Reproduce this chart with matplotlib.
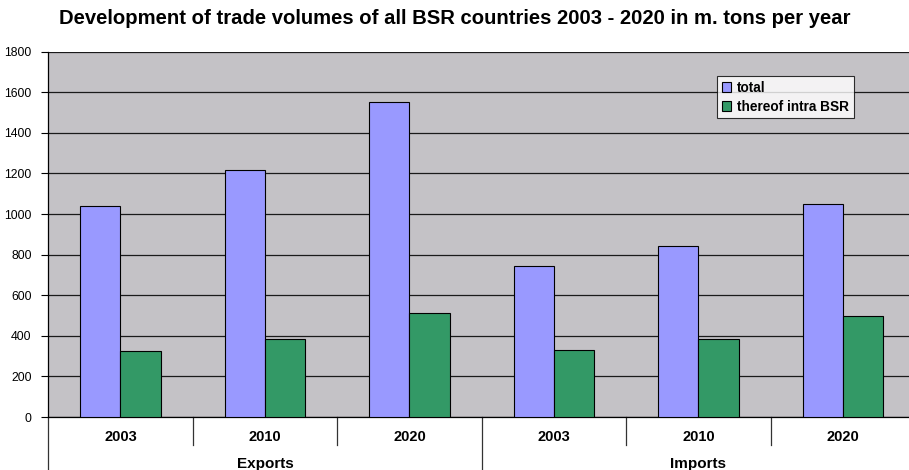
import matplotlib
matplotlib.use("Agg")
import matplotlib.pyplot as plt
from matplotlib.patches import Patch

plt.rcParams['font.family'] = ['Liberation Sans', 'DejaVu Sans']

groups = ["Exports", "Imports"]
years = ["2003", "2010", "2020", "2003", "2010", "2020"]
total = [1040, 1215, 1550, 745, 845, 1050]
intra = [325, 385, 510, 330, 382, 500]
series_names = ["total", "thereof intra BSR"]
yticks = [0, 200, 400, 600, 800, 1000, 1200, 1400, 1600, 1800]

W, H = 909, 470
fig = plt.figure(figsize=(W / 100, H / 100), dpi=100)
fig.patch.set_facecolor("white")
left, right, top, bottom = 48.25, 915.25, 51.7, 417.0
ax = fig.add_axes([left / W, 1 - bottom / H, (right - left) / W, (bottom - top) / H])
ax.set_facecolor("#C4C2C6")

x = list(range(len(years)))
bw = 0.28
ax.bar([i - bw / 2 for i in x], total, width=bw, color="#9999FF", edgecolor="black", linewidth=0.8, zorder=3)
ax.bar([i + bw / 2 for i in x], intra, width=bw, color="#339966", edgecolor="black", linewidth=0.8, zorder=3)

ax.set_xlim(-0.5, len(years) - 0.5)
ax.set_ylim(0, 1800)
ax.set_yticks(yticks)
ax.set_yticklabels([str(v) for v in yticks], fontsize=8.8)
ax.tick_params(axis="y", length=5, width=0.8, pad=7, color="black")
ax.yaxis.grid(True, color="#1a1a1a", linewidth=0.9, zorder=0)
ax.set_axisbelow(True)
ax.set_xticks([])
ax.spines["right"].set_visible(False)
ax.spines["top"].set_visible(False)
ax.spines["left"].set_linewidth(0.9)
ax.spines["bottom"].set_linewidth(0.9)

tr = ax.get_xaxis_transform()
ph = bottom - top
def fy(py):
    return (bottom - py) / ph

for i, lab in enumerate(years):
    ax.text(i, fy(437), lab, transform=tr, ha="center", va="center", fontsize=10.5, fontweight="bold")
for i in [0.5, 1.5, 3.5, 4.5]:
    ax.plot([i, i], [0, fy(445)], transform=tr, color="#333333", lw=0.9, clip_on=False)
for i in [-0.5, 2.5]:
    ax.plot([i, i], [0, fy(475)], transform=tr, color="#333333", lw=0.9, clip_on=False)
for gi, g in enumerate(groups):
    ax.text(gi * 3 + 1, fy(464), g, transform=tr, ha="center", va="center", fontsize=11, fontweight="bold")

fig.text(0.5, 1 - 18 / H, "Development of trade volumes of all BSR countries 2003 - 2020 in m. tons per year",
         ha="center", va="center", fontsize=14.6, fontweight="bold")

handles = [Patch(facecolor="#9999FF", edgecolor="black", linewidth=0.8),
           Patch(facecolor="#339966", edgecolor="black", linewidth=0.8)]
leg = fig.legend(handles, series_names, loc="upper left",
                 bbox_to_anchor=(717 / W, 1 - 76 / H), bbox_transform=fig.transFigure,
                 prop={"weight": "bold", "size": 9.8}, frameon=True, fancybox=False,
                 edgecolor="black", handlelength=0.7, handleheight=0.7, handletextpad=0.4,
                 borderpad=0.35, labelspacing=0.35, borderaxespad=0)
leg.get_frame().set_linewidth(0.8)
leg.get_frame().set_facecolor("white")

fig.savefig("out.png", dpi=100)
